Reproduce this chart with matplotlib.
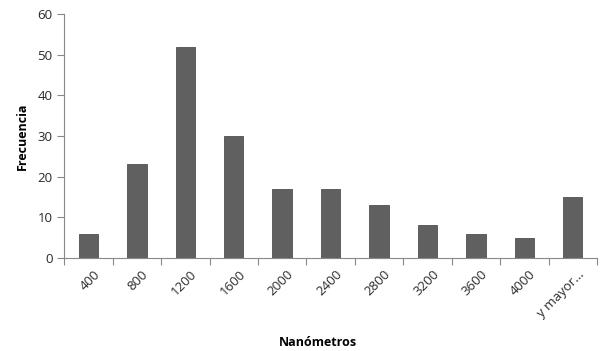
import numpy as np
import matplotlib
matplotlib.use("Agg")
import matplotlib.pyplot as plt

plt.rcParams['font.family'] = ['Open Sans', 'DejaVu Sans']

categorias = ['400', '800', '1200', '1600', '2000', '2400', '2800',
              '3200', '3600', '4000', 'y mayor...']
frecuencia = [6, 23, 52, 30, 17, 17, 13, 8, 6, 5, 15]

fig = plt.figure(figsize=(6.0, 3.51), dpi=100)
ax = fig.add_axes([0.107, 0.265, 0.888, 0.695])

x = np.arange(len(categorias))
ax.bar(x, frecuencia, width=0.4, color='#606060', edgecolor='#505050', linewidth=0.6)

ax.set_xlim(-0.5, len(categorias) - 0.5)
ax.set_ylim(0, 60)
ax.set_yticks(np.arange(0, 61, 10))

# tick marks between categories, labels at the centers
ax.set_xticks(np.arange(-0.5, len(categorias)), minor=False)
ax.set_xticklabels([])
ax.set_xticks(x + 0.1, minor=True)
ax.set_xticklabels(categorias, minor=True, rotation=45, ha='right',
                   rotation_mode='anchor', fontsize=9.5, color='#2a2a2a')
ax.tick_params(axis='x', which='minor', length=0, pad=7)
ax.tick_params(axis='x', which='major', length=5, color='#888888', direction='out')
ax.tick_params(axis='y', length=5, color='#888888', labelsize=9.5, labelcolor='#2a2a2a')

for s in ['top', 'right']:
    ax.spines[s].set_visible(False)
for s in ['left', 'bottom']:
    ax.spines[s].set_color('#888888')

ax.set_ylabel('Frecuencia', fontsize=9, fontweight='bold', labelpad=6)
fig.text(0.53, 0.015, 'Nanómetros', fontsize=9, fontweight='bold', ha='center')

fig.savefig('out.png', dpi=100)
